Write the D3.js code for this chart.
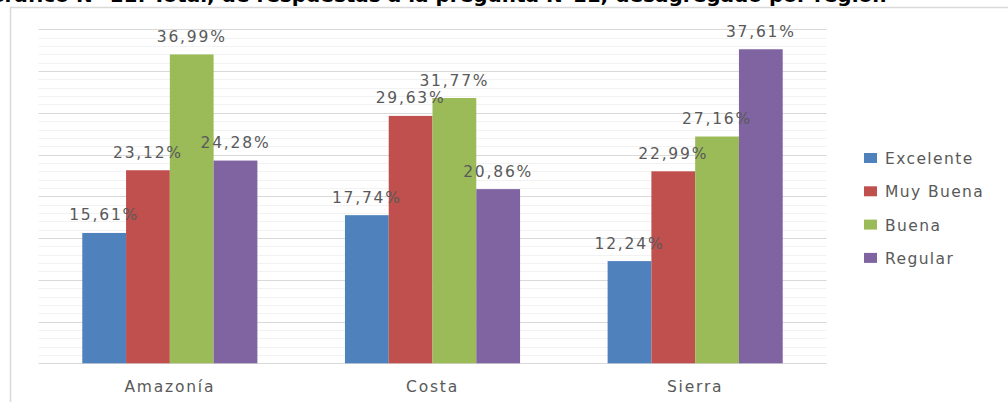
<!DOCTYPE html>
<html lang="es">
<head>
    <meta charset="UTF-8">
    <title>Respuestas por región</title>
    <script src="https://d3js.org/d3.v7.min.js"></script>
    <style>
        body { margin: 0; background: #fff; }
        svg { display: block; }
    </style>
</head>
<body>
    <script>
        // data
        var categories = ["Amazonía", "Costa", "Sierra"];
        var series = ["Excelente", "Muy Buena", "Buena", "Regular"];
        var excelente = [15.61, 17.74, 12.24];
        var muyBuena = [23.12, 29.63, 22.99];
        var buena = [36.99, 31.77, 27.16];
        var regular = [24.28, 20.86, 37.61];
        var colors = ["#4F81BD", "#C0504D", "#9BBB59", "#8064A2"];
        var titleText = "Gráfico N° 11: Total, de respuestas a la pregunta N°11, desagregado por región";

        var width = 1008;
        var height = 402;
        var values = [excelente, muyBuena, buena, regular];

        var svg = d3.select("body").append("svg")
            .attr("width", width)
            .attr("height", height)

        // title, cut off at the top of the picture
        svg.append("text")
            .attr("x", -12)
            .attr("y", 2)
            .attr("font-family", "DejaVu Sans")
            .attr("font-weight", "bold")
            .attr("font-size", 20)
            .attr("fill", "#000")
            .text(titleText)

        // chart frame
        svg.append("rect")
            .attr("x", 10.5)
            .attr("y", 7.5)
            .attr("width", 1010)
            .attr("height", 410)
            .attr("fill", "#fff")
            .attr("stroke", "#d9d9d9")
            .attr("stroke-width", 1.5)

        var left = 38.5, right = 826.5;
        var yScale = d3.scaleLinear().domain([0, 40]).range([363.3, 29.3]);
        var x0 = d3.scaleBand().domain(categories).range([left, right]).padding(0);
        var x1 = d3.scaleBand().domain(series).range([0, x0.bandwidth()]).paddingInner(0).paddingOuter(1);

        // gridlines
        svg.append("g").selectAll("line")
            .data(d3.range(0, 41, 1))
            .join("line")
            .attr("x1", left)
            .attr("x2", right)
            .attr("y1", d => Math.round(yScale(d)) + 0.5)
            .attr("y2", d => Math.round(yScale(d)) + 0.5)
            .attr("stroke", d => d % 5 == 0 ? "#d9d9d9" : "#f2f2f2")
            .attr("stroke-width", 1)

        // bars
        var rows = [];
        categories.forEach((c, i) => {
            series.forEach((s, j) => {
                rows.push({cat: c, ser: s, v: values[j][i], color: colors[j]});
            });
        });

        svg.append("g").selectAll("rect")
            .data(rows)
            .join("rect")
            .attr("x", d => x0(d.cat) + x1(d.ser))
            .attr("y", d => yScale(d.v))
            .attr("width", x1.bandwidth())
            .attr("height", d => yScale(0) - yScale(d.v))
            .attr("fill", d => d.color)

        // value labels
        svg.append("g").selectAll("text")
            .data(rows)
            .join("text")
            .attr("x", d => x0(d.cat) + x1(d.ser) + x1.bandwidth() / 2)
            .attr("y", d => yScale(d.v) - 12.5)
            .attr("text-anchor", "middle")
            .attr("font-family", "DejaVu Sans")
            .attr("font-size", 15.5)
            .attr("letter-spacing", 1.8)
            .attr("fill", "#595959")
            .text(d => d.v.toFixed(2).replace(".", ",") + "%")

        // category labels
        svg.append("g").selectAll("text")
            .data(categories)
            .join("text")
            .attr("x", d => x0(d) + x0.bandwidth() / 2)
            .attr("y", 392)
            .attr("text-anchor", "middle")
            .attr("font-family", "DejaVu Sans")
            .attr("font-size", 15.5)
            .attr("letter-spacing", 1.8)
            .attr("fill", "#595959")
            .text(d => d)

        // legend
        var legend = svg.append("g").selectAll("g")
            .data(series)
            .join("g")
            .attr("transform", (d, i) => "translate(864," + (158 + i * 33.3) + ")")

        legend.append("rect")
            .attr("x", 0)
            .attr("y", -5)
            .attr("width", 13)
            .attr("height", 10)
            .attr("fill", (d, i) => colors[i])

        legend.append("text")
            .attr("x", 21)
            .attr("y", 6)
            .attr("font-family", "DejaVu Sans")
            .attr("font-size", 15.5)
            .attr("letter-spacing", 1.4)
            .attr("fill", "#595959")
            .text(d => d)
    </script>
</body>
</html>
